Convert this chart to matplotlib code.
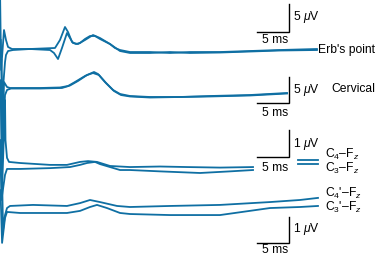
import matplotlib
matplotlib.use('Agg')
import matplotlib.pyplot as plt

plt.rcParams['font.family'] = ['Liberation Sans', 'DejaVu Sans']
plt.rcParams['mathtext.fontset'] = 'custom'
plt.rcParams['mathtext.rm'] = 'Liberation Sans'
plt.rcParams['mathtext.it'] = 'Liberation Sans:italic'

# time in ms, amplitude in uV (upward positive), two sweeps per channel
erb_t_a = [-0.6, -0.45, 0.0, 0.31, 0.63, 1.25, 4.06, 7.97, 8.75, 9.53, 10.0, 10.63, 11.25, 11.88, 12.66, 13.44,
           14.22, 15.0, 16.56, 17.34, 18.13, 19.69, 22.81, 25.94, 29.06, 33.75, 38.44, 43.13, 48.9]
erb_a = [8.75, -3.75, 3.39, 1.61, 0.36, 0.0, 0.0, 0.18, 1.61, 3.93, 3.04, 1.25, 0.89, 1.07, 1.79, 2.32,
         2.32, 1.79, 0.89, 0.18, -0.18, -0.54, -0.54, -0.71, -0.54, -0.54, -0.36, -0.18, 0.0]
erb_t_b = [-0.5, -0.3, 0.16, 0.31, 0.63, 1.41, 4.06, 7.19, 7.81, 8.44, 9.06, 9.84, 10.31, 10.78, 11.56, 12.66,
           13.91, 15.0, 16.56, 18.13, 19.69, 22.81, 25.94, 29.06, 33.75, 38.44, 43.13, 48.9]
erb_b = [1.6, -9.1, -2.32, -1.07, -0.36, -0.18, 0.0, -0.18, -0.71, -1.79, 0.18, 2.86, 1.96, 1.07, 0.89, 1.61,
         2.5, 1.96, 0.89, -0.36, -0.71, -0.71, -0.54, -0.71, -0.63, -0.45, -0.27, -0.18]

cerv_t_a = [-0.4, -0.2, 0.0, 0.47, 0.94, 5.63, 8.75, 10.0, 11.09, 12.66, 14.06, 14.69, 15.78, 17.03, 18.13,
            19.69, 22.81, 27.5, 32.19, 38.44, 44.22]
cerv_a = [5.4, -10.0, 1.15, 0.19, 0.0, 0.0, 0.1, 0.38, 1.15, 2.31, 3.08, 2.69, 1.15, -0.38, -1.15,
          -1.54, -1.73, -1.73, -1.54, -1.35, -0.96]
cerv_t_b = [-0.55, -0.35, 0.16, 0.47, 1.09, 5.63, 9.06, 10.31, 11.56, 12.97, 13.91, 14.84, 15.94, 17.19, 18.28,
            19.69, 22.81, 27.5, 32.19, 38.44, 44.22]
cerv_b = [1.5, -13.8, -1.35, -0.38, -0.1, -0.1, 0.0, 0.48, 1.35, 2.5, 2.88, 2.5, 0.96, -0.58, -1.35,
          -1.63, -1.83, -1.73, -1.63, -1.44, -1.06]

c4_t = [-0.45, -0.25, 0.16, 0.23, 0.47, 0.78, 2.5, 7.19, 9.84, 11.88, 13.13, 14.53, 16.56, 19.69, 24.38,
        28.59, 33.75, 38.91]
c4 = [2.7, -0.63, 2.33, 0.85, 0.19, 0.04, 0.0, -0.07, -0.07, 0.04, 0.07, 0.04, -0.11, -0.15, -0.13,
      -0.15, -0.17, -0.15]
c3_t = [-0.6, -0.4, 0.16, 0.47, 2.5, 7.19, 10.31, 11.88, 12.97, 14.22, 15.0, 16.56, 18.13, 19.69, 24.38,
        30.63, 35.31, 38.91]
c3 = [0.85, -1.37, -0.44, -0.22, -0.22, -0.19, -0.15, -0.07, 0.0, 0.04, -0.04, -0.15, -0.26, -0.26, -0.31,
      -0.37, -0.31, -0.26]

c4p_t = [-0.35, -0.15, 0.16, 0.47, 0.94, 4.53, 9.84, 11.88, 13.44, 15.0, 17.66, 19.69, 25.94, 33.75, 41.56,
         46.25, 49.06]
c4p = [1.8, -0.88, -0.31, -0.04, 0.04, 0.08, 0.04, 0.15, 0.27, 0.19, 0.04, 0.0, 0.04, 0.08, 0.19,
       0.27, 0.35]
c3p_t = [-0.55, -0.3, 0.16, 0.47, 2.5, 9.84, 11.88, 13.44, 14.53, 16.09, 18.13, 19.69, 25.94, 33.75, 41.56,
         46.25, 49.06]
c3p = [0.65, -1.38, -0.42, -0.19, -0.23, -0.23, -0.15, 0.0, 0.08, -0.04, -0.23, -0.27, -0.31, -0.31, -0.04,
       0.0, 0.04]

bar_ms = 5
bar_uv = [5, 5, 1, 1]

W, H = 376, 256
col = '#0f6fa3'

# channel layout: baseline (pixels from top) and pixels per uV
base = [49, 88, 163, 207]
gain = [5.6, 5.2, 27, 26]
bar_low = [3.04, -2.88, 0.22, -1.38]   # lower end of the vertical scale bar (uV)
ms_y = [43, 116.5, 171, 253]           # text baselines, pixels from top
uv_y = [20, 93, 147, 232]

fig = plt.figure(figsize=(W / 100, H / 100), dpi=100)
ax = fig.add_axes([0, 0, 1, 1])
ax.set_xlim(-4 / 6.4, (W - 4) / 6.4)
ax.set_ylim(H, 0)
ax.axis('off')

def draw(ch, t, v):
    ax.plot(t, [base[ch] - a * gain[ch] for a in v], color=col, lw=1.3, solid_joinstyle='round')

draw(0, erb_t_a, erb_a)
draw(0, erb_t_b, erb_b)
draw(1, cerv_t_a, cerv_a)
draw(1, cerv_t_b, cerv_b)
draw(2, c4_t, c4)
draw(2, c3_t, c3)
draw(3, c4p_t, c4p)
draw(3, c3p_t, c3p)

# legend keys for C4/C3
ax.plot([46.0, 49.06], [base[2] - 0.11 * gain[2]] * 2, color=col, lw=1.3)
ax.plot([46.0, 49.06], [base[2] + 0.04 * gain[2]] * 2, color=col, lw=1.3)

fs = 8.7
# scale bars
bx = (289 - 4) / 6.4
for ch in range(4):
    y0 = base[ch] - bar_low[ch] * gain[ch]
    y1 = base[ch] - (bar_low[ch] + bar_uv[ch]) * gain[ch]
    ax.plot([bx - bar_ms, bx, bx], [y0, y0, y1], color='black', lw=1.0, solid_joinstyle='miter')
    fig.text(275 / W, 1 - ms_y[ch] / H, '%d ms' % bar_ms, fontsize=fs, ha='center', va='baseline')
    fig.text(293 / W, 1 - uv_y[ch] / H, r'%d $\mu$V' % bar_uv[ch], fontsize=fs, ha='left', va='baseline')

fig.text(318 / W, 1 - 53.5 / H, "Erb's point", fontsize=fs, ha='left', va='baseline')
fig.text(331 / W, 1 - 92 / H, 'Cervical', fontsize=fs, ha='left', va='baseline')
fig.text(325 / W, 1 - 158 / H, r'C$_4$–F$_z$', fontsize=fs, ha='left', va='baseline')
fig.text(325 / W, 1 - 172 / H, r'C$_3$–F$_z$', fontsize=fs, ha='left', va='baseline')
fig.text(325 / W, 1 - 197 / H, r"C$_4$'–F$_z$", fontsize=fs, ha='left', va='baseline')
fig.text(325 / W, 1 - 211 / H, r"C$_3$'–F$_z$", fontsize=fs, ha='left', va='baseline')

fig.savefig('out.png', dpi=100)
